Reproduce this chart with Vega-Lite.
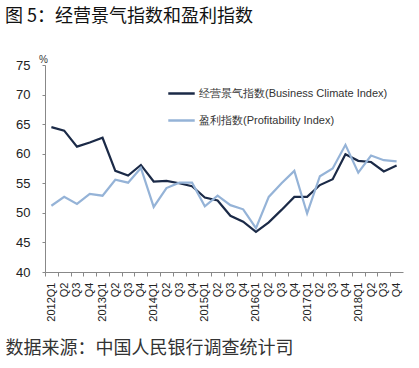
{
  "$schema": "https://vega.github.io/schema/vega-lite/v6.json",
  "width": 358,
  "height": 207,
  "autosize": {"type": "none"},
  "padding": {"left": 45, "top": 65, "right": 16, "bottom": 96},
  "background": "white",
  "title": {
    "text": "图 5：经营景气指数和盈利指数",
    "anchor": "start",
    "frame": "group",
    "dx": -40,
    "offset": 28,
    "font": "Noto Sans CJK SC",
    "fontSize": 18,
    "fontWeight": "normal",
    "color": "#111111"
  },
  "config": {
    "view": {"stroke": null},
    "font": "Liberation Sans"
  },
  "data": {
    "values": [
      {"t": "2012Q1", "s": "经营景气指数(Business Climate Index)", "v": 64.5},
      {"t": "2012Q2", "s": "经营景气指数(Business Climate Index)", "v": 63.9},
      {"t": "2012Q3", "s": "经营景气指数(Business Climate Index)", "v": 61.2},
      {"t": "2012Q4", "s": "经营景气指数(Business Climate Index)", "v": 61.9},
      {"t": "2013Q1", "s": "经营景气指数(Business Climate Index)", "v": 62.7},
      {"t": "2013Q2", "s": "经营景气指数(Business Climate Index)", "v": 57.1},
      {"t": "2013Q3", "s": "经营景气指数(Business Climate Index)", "v": 56.3},
      {"t": "2013Q4", "s": "经营景气指数(Business Climate Index)", "v": 58.1},
      {"t": "2014Q1", "s": "经营景气指数(Business Climate Index)", "v": 55.3},
      {"t": "2014Q2", "s": "经营景气指数(Business Climate Index)", "v": 55.4},
      {"t": "2014Q3", "s": "经营景气指数(Business Climate Index)", "v": 55.0},
      {"t": "2014Q4", "s": "经营景气指数(Business Climate Index)", "v": 54.5},
      {"t": "2015Q1", "s": "经营景气指数(Business Climate Index)", "v": 52.6},
      {"t": "2015Q2", "s": "经营景气指数(Business Climate Index)", "v": 52.1},
      {"t": "2015Q3", "s": "经营景气指数(Business Climate Index)", "v": 49.5},
      {"t": "2015Q4", "s": "经营景气指数(Business Climate Index)", "v": 48.5},
      {"t": "2016Q1", "s": "经营景气指数(Business Climate Index)", "v": 46.8},
      {"t": "2016Q2", "s": "经营景气指数(Business Climate Index)", "v": 48.4},
      {"t": "2016Q3", "s": "经营景气指数(Business Climate Index)", "v": 50.5},
      {"t": "2016Q4", "s": "经营景气指数(Business Climate Index)", "v": 52.7},
      {"t": "2017Q1", "s": "经营景气指数(Business Climate Index)", "v": 52.7},
      {"t": "2017Q2", "s": "经营景气指数(Business Climate Index)", "v": 54.7},
      {"t": "2017Q3", "s": "经营景气指数(Business Climate Index)", "v": 55.7},
      {"t": "2017Q4", "s": "经营景气指数(Business Climate Index)", "v": 59.9},
      {"t": "2018Q1", "s": "经营景气指数(Business Climate Index)", "v": 58.8},
      {"t": "2018Q2", "s": "经营景气指数(Business Climate Index)", "v": 58.6},
      {"t": "2018Q3", "s": "经营景气指数(Business Climate Index)", "v": 57.0},
      {"t": "2018Q4", "s": "经营景气指数(Business Climate Index)", "v": 58.0},
      {"t": "2012Q1", "s": "盈利指数(Profitability Index)", "v": 51.2},
      {"t": "2012Q2", "s": "盈利指数(Profitability Index)", "v": 52.7},
      {"t": "2012Q3", "s": "盈利指数(Profitability Index)", "v": 51.5},
      {"t": "2012Q4", "s": "盈利指数(Profitability Index)", "v": 53.2},
      {"t": "2013Q1", "s": "盈利指数(Profitability Index)", "v": 52.9},
      {"t": "2013Q2", "s": "盈利指数(Profitability Index)", "v": 55.6},
      {"t": "2013Q3", "s": "盈利指数(Profitability Index)", "v": 55.1},
      {"t": "2013Q4", "s": "盈利指数(Profitability Index)", "v": 57.6},
      {"t": "2014Q1", "s": "盈利指数(Profitability Index)", "v": 51.0},
      {"t": "2014Q2", "s": "盈利指数(Profitability Index)", "v": 54.2},
      {"t": "2014Q3", "s": "盈利指数(Profitability Index)", "v": 55.1},
      {"t": "2014Q4", "s": "盈利指数(Profitability Index)", "v": 55.1},
      {"t": "2015Q1", "s": "盈利指数(Profitability Index)", "v": 51.1},
      {"t": "2015Q2", "s": "盈利指数(Profitability Index)", "v": 52.9},
      {"t": "2015Q3", "s": "盈利指数(Profitability Index)", "v": 51.3},
      {"t": "2015Q4", "s": "盈利指数(Profitability Index)", "v": 50.6},
      {"t": "2016Q1", "s": "盈利指数(Profitability Index)", "v": 47.4},
      {"t": "2016Q2", "s": "盈利指数(Profitability Index)", "v": 52.7},
      {"t": "2016Q3", "s": "盈利指数(Profitability Index)", "v": 55.0},
      {"t": "2016Q4", "s": "盈利指数(Profitability Index)", "v": 57.1},
      {"t": "2017Q1", "s": "盈利指数(Profitability Index)", "v": 49.9},
      {"t": "2017Q2", "s": "盈利指数(Profitability Index)", "v": 56.2},
      {"t": "2017Q3", "s": "盈利指数(Profitability Index)", "v": 57.5},
      {"t": "2017Q4", "s": "盈利指数(Profitability Index)", "v": 61.5},
      {"t": "2018Q1", "s": "盈利指数(Profitability Index)", "v": 56.8},
      {"t": "2018Q2", "s": "盈利指数(Profitability Index)", "v": 59.7},
      {"t": "2018Q3", "s": "盈利指数(Profitability Index)", "v": 58.9},
      {"t": "2018Q4", "s": "盈利指数(Profitability Index)", "v": 58.7}
    ]
  },
  "mark": {"type": "line", "strokeWidth": 2.2},
  "encoding": {
    "x": {
      "field": "t",
      "type": "ordinal",
      "scale": {"type": "point", "padding": 0.5},
      "axis": {
        "labelExpr": "slice(datum.value,4)=='Q1' ? datum.value : slice(datum.value,4)",
        "labelAngle": -90,
        "labelAlign": "right",
        "labelBaseline": "middle",
        "labelFontSize": 11,
        "labelColor": "#222222",
        "labelPadding": 6,
        "tickOffset": -6.4,
        "labelOffset": 6.4,
        "tickSize": 4,
        "tickColor": "#888888",
        "domainColor": "#888888",
        "title": "数据来源：中国人民银行调查统计司",
        "titleFont": "Noto Sans CJK SC",
        "titleFontSize": 18,
        "titleFontWeight": "normal",
        "titleColor": "#333333",
        "titleAnchor": "start",
        "titleAlign": "left",
        "titleBaseline": "middle",
        "titleX": -40,
        "titleY": 76
      }
    },
    "y": {
      "field": "v",
      "type": "quantitative",
      "scale": {"domain": [40, 75], "nice": false, "zero": false},
      "axis": {
        "values": [40, 45, 50, 55, 60, 65, 70, 75],
        "grid": false,
        "labelFontSize": 13,
        "labelColor": "#222222",
        "labelPadding": 12,
        "tickSize": 3,
        "tickColor": "#888888",
        "domainColor": "#888888",
        "title": "%",
        "titleAngle": 0,
        "titleFontSize": 10,
        "titleFontWeight": "normal",
        "titleColor": "#333333",
        "titleAlign": "center",
        "titleBaseline": "bottom",
        "titleX": -2,
        "titleY": -1
      }
    },
    "color": {
      "field": "s",
      "type": "nominal",
      "scale": {
        "domain": ["经营景气指数(Business Climate Index)", "盈利指数(Profitability Index)"],
        "range": ["#1b2a47", "#95b3d7"]
      },
      "legend": {
        "title": null,
        "orient": "none",
        "legendX": 122,
        "legendY": 14,
        "symbolType": "stroke",
        "symbolSize": 700,
        "symbolStrokeWidth": 2.5,
        "labelFont": "Liberation Sans",
        "labelFontSize": 11,
        "labelColor": "#333333",
        "labelLimit": 400,
        "labelOffset": 3,
        "rowPadding": 7
      }
    }
  }
}
